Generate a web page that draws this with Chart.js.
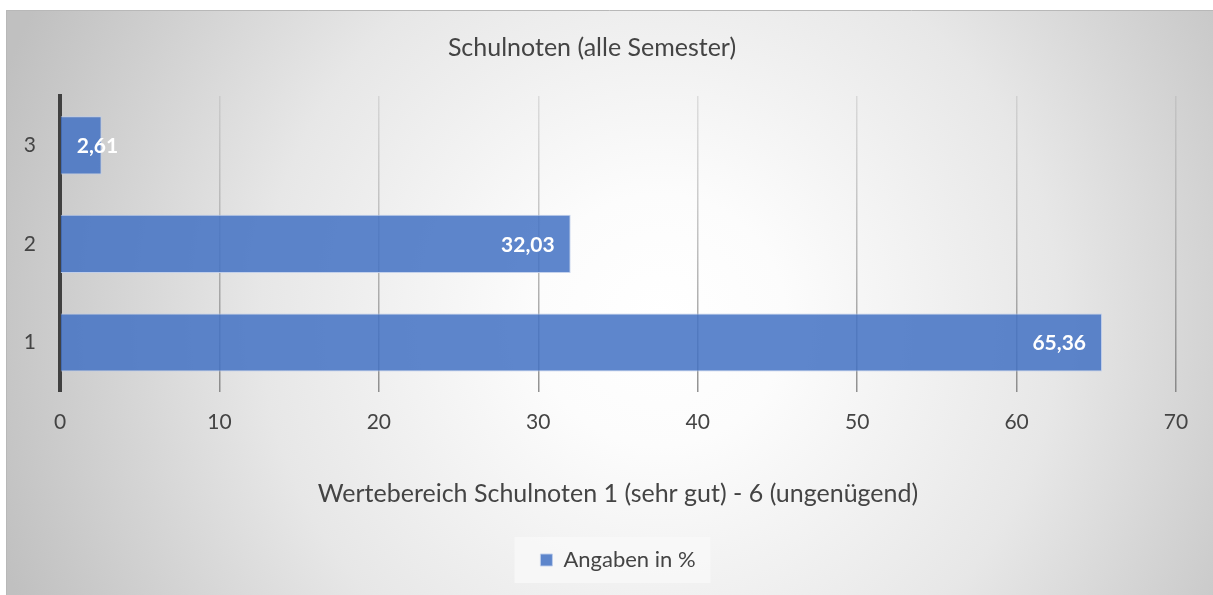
<!DOCTYPE html>
<html>
<head>
<meta charset="utf-8">
<script src="https://cdn.jsdelivr.net/npm/chart.js@4.4.1/dist/chart.umd.min.js"></script>
<style>
  html, body { margin: 0; padding: 0; background: #ffffff; }
  #wrap { position: relative; width: 1213px; height: 595px; }
</style>
</head>
<body>
<div id="wrap"><canvas id="c"></canvas></div>
<script>
// ---- data ----
const categories = ['1', '2', '3'];
const seriesName = 'Angaben in %';
const values = [65.36, 32.03, 2.61];
const xTicks = [0, 10, 20, 30, 40, 50, 60, 70];
const chartTitle = 'Schulnoten (alle Semester)';
const xAxisTitle = 'Wertebereich Schulnoten 1 (sehr gut) - 6 (ungenügend)';

const FONT = 'Lato';
const TEXT = '#444444';

const bgPlugin = {
  id: 'bgPlugin',
  beforeDraw(chart) {
    const ctx = chart.ctx;
    const W = chart.width, H = chart.height;
    ctx.save();
    ctx.fillStyle = '#ffffff';
    ctx.fillRect(0, 0, W, H);
    const g = ctx.createRadialGradient(660, 320, 0, 660, 320, 700);
    g.addColorStop(0, '#ffffff');
    g.addColorStop(0.18, '#fcfcfc');
    g.addColorStop(0.57, '#e7e7e7');
    g.addColorStop(1, '#c0c0c0');
    ctx.fillStyle = g;
    ctx.fillRect(6, 10, W - 6, H - 10);
    ctx.strokeStyle = '#b8b8b8';
    ctx.lineWidth = 1;
    ctx.beginPath();
    ctx.moveTo(6.5, H);
    ctx.lineTo(6.5, 10.5);
    ctx.lineTo(W, 10.5);
    ctx.stroke();
    // legend background
    const lg = chart.legend;
    if (lg && lg.legendHitBoxes && lg.legendHitBoxes.length) {
      const hb = lg.legendHitBoxes[0];
      const cy = hb.top + hb.height / 2;
      ctx.fillStyle = 'rgba(248,248,248,0.85)';
      ctx.fillRect(hb.left - 26, cy - 23, hb.width + 41, 46);
    }
    ctx.restore();
  }
};

const labelPlugin = {
  id: 'labelPlugin',
  afterDatasetsDraw(chart) {
    const ctx = chart.ctx;
    const meta = chart.getDatasetMeta(0);
    ctx.save();
    ctx.font = 'bold 21px ' + FONT;
    ctx.fillStyle = '#ffffff';
    ctx.textAlign = 'right';
    ctx.textBaseline = 'middle';
    meta.data.forEach((bar, i) => {
      const txt = values[i].toFixed(2).replace('.', ',');
      const w = ctx.measureText(txt).width;
      const xr = Math.max(bar.x - 16, bar.base + 16 + w);
      ctx.fillText(txt, xr, bar.y + 1);
    });
    ctx.restore();
  }
};

const ctx = document.getElementById('c');
new Chart(ctx, {
  type: 'bar',
  data: {
    labels: categories,
    datasets: [{
      label: seriesName,
      data: values,
      backgroundColor: 'rgba(68,114,196,0.86)',
      borderColor: 'rgba(190,205,235,0.9)',
      borderWidth: 1,
      borderSkipped: 'start',
      categoryPercentage: 1,
      barPercentage: 0.59
    }]
  },
  options: {
    indexAxis: 'y',
    responsive: true,
    maintainAspectRatio: false,
    animation: false,
    layout: { padding: { top: 10, left: 8, right: 37, bottom: 14 } },
    scales: {
      x: {
        min: 0, max: 70,
        afterBuildTicks(scale) { scale.ticks = xTicks.map(v => ({ value: v })); },
        grid: {
          drawTicks: false,
          lineWidth: 1.5,
          color(c) {
            const ch = c.chart;
            if (!ch.chartArea) return '#a0a0a0';
            const g = ch.ctx.createLinearGradient(0, ch.chartArea.top, 0, ch.chartArea.bottom);
            g.addColorStop(0, 'rgba(150,150,150,0.25)');
            g.addColorStop(1, 'rgba(110,110,110,0.75)');
            return g;
          }
        },
        border: { display: false },
        ticks: {
          padding: 18,
          color: TEXT,
          font: { family: FONT, size: 21 }
        },
        title: {
          display: true,
          text: xAxisTitle,
          color: TEXT,
          font: { family: FONT, size: 25 },
          padding: { top: 26, bottom: 30 }
        }
      },
      y: {
        reverse: true,
        afterFit(scale) { scale.width = 52; },
        grid: { display: false, drawTicks: false },
        border: { display: true, color: '#404040', width: 4 },
        ticks: {
          padding: 24,
          color: TEXT,
          font: { family: FONT, size: 21 }
        }
      }
    },
    plugins: {
      title: {
        display: true,
        text: chartTitle,
        color: TEXT,
        font: { family: FONT, size: 25, weight: 'normal' },
        padding: { top: 23, bottom: 33 }
      },
      legend: {
        display: true,
        position: 'bottom',
        fullSize: false,
        labels: {
          boxWidth: 12,
          boxHeight: 12,
          color: TEXT,
          font: { family: FONT, size: 22 },
          padding: 10,
          generateLabels(chart) {
            return [{
              text: seriesName,
              fillStyle: 'rgba(68,114,196,0.86)',
              strokeStyle: 'rgba(190,205,235,0.9)',
              lineWidth: 1,
              datasetIndex: 0,
              fontColor: TEXT
            }];
          }
        }
      },
      tooltip: { enabled: false }
    }
  },
  plugins: [bgPlugin, labelPlugin]
});
</script>
</body>
</html>
